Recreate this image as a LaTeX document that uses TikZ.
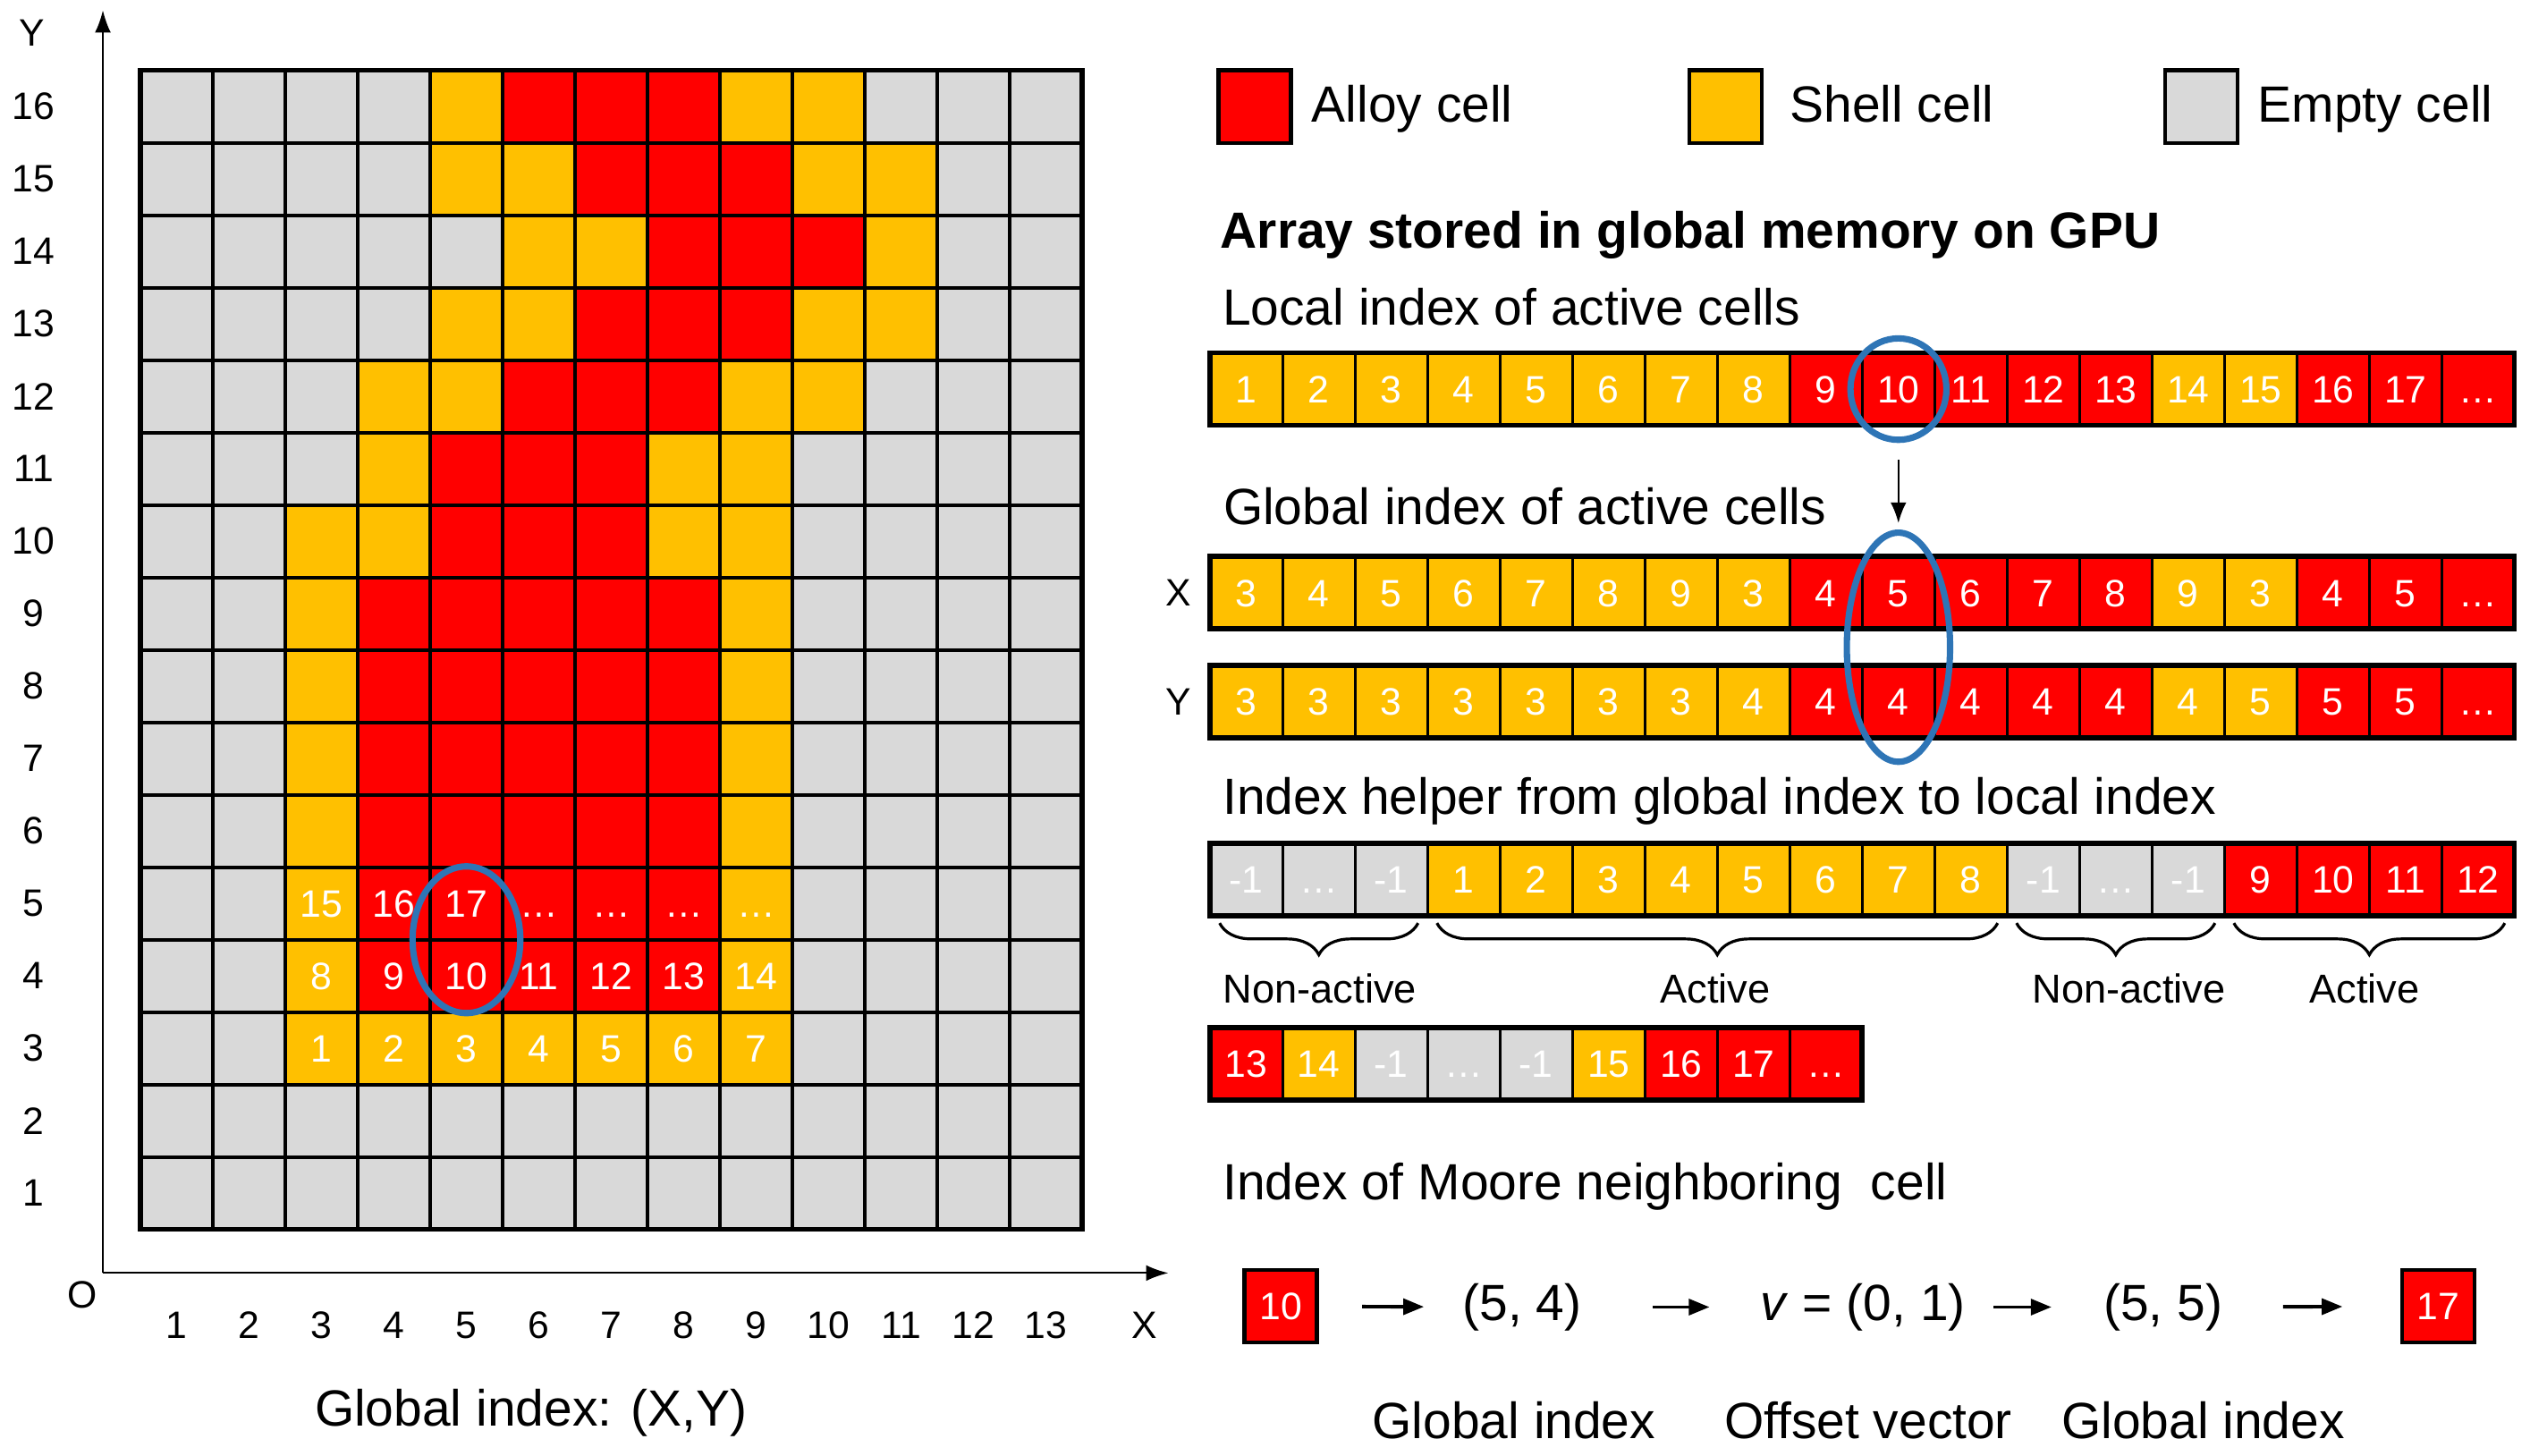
\documentclass[tikz,border=0pt]{standalone}
\usepackage{fontspec}
\setmainfont{Liberation Sans}
\usetikzlibrary{positioning}
\usetikzlibrary{shapes.geometric}
\usetikzlibrary{arrows.meta}
\usetikzlibrary{decorations.pathreplacing}
\usetikzlibrary{calc}
\definecolor{ca}{HTML}{FF0000}
\definecolor{cs}{HTML}{FFC000}
\definecolor{ce}{HTML}{D9D9D9}
\definecolor{ringblue}{HTML}{2E75B6}
\tikzset{cell/.style={draw=black, line width=0.8pt, minimum size=0.8cm, inner sep=0pt, outer sep=0pt, text=white, text height=8.6pt, text depth=0pt, font=\fontsize{12}{14}\selectfont},
 big/.style={font=\fontsize{16}{19}\selectfont, inner sep=0pt},
 small/.style={font=\fontsize{12}{14}\selectfont, inner sep=0pt},
 note/.style={font=\fontsize{12.7}{15}\selectfont, inner sep=0pt},
 ring/.style={ellipse, draw=ringblue, line width=2pt, inner sep=0pt},
 pointer/.style={-{Latex[length=6.5pt,width=5pt]}, line width=0.6pt},
 moorearrow/.style={-{Triangle[length=6.5pt,width=5pt]}, line width=1.1pt},
 bracket/.style={decorate, decoration={brace, amplitude=0.35cm, mirror}, line width=0.9pt},
 }

\begin{document}
\begin{tikzpicture}[x=0.8cm, y=0.8cm]
        \useasboundingbox (-1.938,-3.118) rectangle (32.984,16.971);
        \foreach \y/\row in {16/{e,e,e,e,s,a,a,a,s,s,e,e,e}, 15/{e,e,e,e,s,s,a,a,a,s,s,e,e},
            14/{e,e,e,e,e,s,s,a,a,a,s,e,e}, 13/{e,e,e,e,s,s,a,a,a,s,s,e,e},
            12/{e,e,e,s,s,a,a,a,s,s,e,e,e}, 11/{e,e,e,s,a,a,a,s,s,e,e,e,e},
            10/{e,e,s,s,a,a,a,s,s,e,e,e,e}, 9/{e,e,s,a,a,a,a,a,s,e,e,e,e},
            8/{e,e,s,a,a,a,a,a,s,e,e,e,e}, 7/{e,e,s,a,a,a,a,a,s,e,e,e,e},
            6/{e,e,s,a,a,a,a,a,s,e,e,e,e}, 5/{e,e,s,a,a,a,a,a,s,e,e,e,e},
            4/{e,e,s,a,a,a,a,a,s,e,e,e,e}, 3/{e,e,s,s,s,s,s,s,s,e,e,e,e},
            2/{e,e,e,e,e,e,e,e,e,e,e,e,e}, 1/{e,e,e,e,e,e,e,e,e,e,e,e,e}} {
            \foreach \col [count=\x] in \row {
                \node[cell, fill=c\col, line width=1.05pt] (g-\x-\y) at (\x-0.5, \y-0.5) {};
            }
        }
        \draw[line width=1.5pt] (g-1-1.south west) rectangle (g-13-16.north east);
        \foreach \x/\y/\txt in {3/3/1, 4/3/2, 5/3/3, 6/3/4, 7/3/5, 8/3/6, 9/3/7,
            3/4/8, 4/4/9, 5/4/10, 6/4/11, 7/4/12, 8/4/13, 9/4/14,
            3/5/15, 4/5/16, 5/5/17, 6/5/\ldots, 7/5/\ldots, 8/5/\ldots, 9/5/\ldots} {
            \node[cell, draw=none] (t-\x-\y) at (g-\x-\y) {\txt};
        }
        \node[ring, minimum width=1.19cm, minimum height=1.62cm] (ring-g) at (4.5, 4) {};

        \coordinate (o) at (-0.518, -0.6);
        \coordinate (ytip) at (-0.518, 16.83);
        \coordinate (xtip) at (14.19, -0.6);
        \draw[-{Latex[length=7pt,width=5pt]}, line width=0.6pt] (o) -- (ytip);
        \draw[-{Latex[length=7pt,width=5pt]}, line width=0.6pt] (o) -- (xtip);
        \foreach \y in {1,...,16} {
            \node[small] (ry-\y) at (-1.474, \y-0.5) {\y};
        }
        \foreach \x in {1,...,13} {
            \node[small, anchor=base] (cx-\x) at (\x-0.5, -1.506) {\x};
        }
        \node[small, anchor=base] (ylab) at (-1.495, 16.33) {Y};
        \node[small, anchor=base] (xlab) at (13.86, -1.506) {X};
        \node[small, anchor=base] (olab) at (-0.806, -1.085) {O};
        \node[big, anchor=base] (gcap) at (5.39, -2.71) {Global index: (X,Y)};

        \node[cell, fill=ca, line width=1.2pt] (leg-a) at (15.38, 15.5) {};
        \node[big, anchor=base west] (leg-a-txt) at (16.16, 15.29) {Alloy cell};
        \node[cell, fill=cs, line width=1.2pt] (leg-s) at (21.88, 15.5) {};
        \node[big, anchor=base west] (leg-s-txt) at (22.76, 15.29) {Shell cell};
        \node[cell, fill=ce, line width=1.2pt] (leg-e) at (28.45, 15.5) {};
        \node[big, anchor=base west] (leg-e-txt) at (29.22, 15.29) {Empty cell};

        \node[big, font=\fontsize{16}{19}\selectfont\bfseries, anchor=base west] (title) at (14.9, 13.54) {Array stored in global memory on GPU};
        \node[big, anchor=base west] (loc-txt) at (14.93, 12.48) {Local index of active cells};
        \node[big, anchor=base west] (glb-txt) at (14.94, 9.735) {Global index of active cells};
        \node[big, anchor=base west] (hlp-txt) at (14.93, 5.735) {Index helper from global index to local index};
        \node[big, anchor=base west] (moore-txt) at (14.93, 0.41) {Index of Moore neighboring~ cell};

        \foreach \arr/\ya/\list in {
            loc/11.6/{s/1,s/2,s/3,s/4,s/5,s/6,s/7,s/8,a/9,a/10,a/11,a/12,a/13,s/14,s/15,a/16,a/17,a/\ldots},
            gx/8.79/{s/3,s/4,s/5,s/6,s/7,s/8,s/9,s/3,a/4,a/5,a/6,a/7,a/8,s/9,s/3,a/4,a/5,a/\ldots},
            gy/7.285/{s/3,s/3,s/3,s/3,s/3,s/3,s/3,s/4,a/4,a/4,a/4,a/4,a/4,s/4,s/5,a/5,a/5,a/\ldots},
            hlp/4.83/{e/-1,e/\ldots,e/-1,s/1,s/2,s/3,s/4,s/5,s/6,s/7,s/8,e/-1,e/\ldots,e/-1,a/9,a/10,a/11,a/12},
            hlpb/2.29/{a/13,s/14,e/-1,e/\ldots,e/-1,s/15,a/16,a/17,a/\ldots}} {
            \foreach \col/\txt [count=\i] in \list {
                \node[cell, fill=c\col] (\arr-\i) at (14.266+\i, \ya) {\txt};
            }
        }
        \draw[line width=1.6pt] (loc-1.south west) rectangle (loc-18.north east);
        \draw[line width=1.6pt] (gx-1.south west) rectangle (gx-18.north east);
        \draw[line width=1.6pt] (gy-1.south west) rectangle (gy-18.north east);
        \draw[line width=1.6pt] (hlp-1.south west) rectangle (hlp-18.north east);
        \draw[line width=1.6pt] (hlpb-1.south west) rectangle (hlpb-9.north east);
        \node[small] (gx-lbl) at (14.33, 8.79) {X};
        \node[small] (gy-lbl) at (14.33, 7.285) {Y};

        \node[ring, minimum width=1.06cm, minimum height=1.12cm] (ring-loc) at (loc-10) {};
        \node[ring, minimum width=1.14cm, minimum height=2.53cm] (ring-glb) at ($(gx-10)!0.5!(gy-10)$) {};
        \draw[pointer, shorten <=0.18cm, shorten >=0.07cm] (ring-loc) -- (ring-glb);

        \draw[bracket] ([shift={(0.13,-0.1)}]hlp-1.south west) -- ([shift={(-0.13,-0.1)}]hlp-3.south east);
        \draw[bracket] ([shift={(0.13,-0.1)}]hlp-4.south west) -- ([shift={(-0.13,-0.1)}]hlp-11.south east);
        \draw[bracket] ([shift={(0.13,-0.1)}]hlp-12.south west) -- ([shift={(-0.13,-0.1)}]hlp-14.south east);
        \draw[bracket] ([shift={(0.13,-0.1)}]hlp-15.south west) -- ([shift={(-0.13,-0.1)}]hlp-18.south east);
        \foreach \n/\x/\txt in {1/16.28/Non-active, 2/21.74/Active, 3/27.45/Non-active, 4/30.7/Active} {
            \node[note, anchor=base] (part-\n) at (\x, 3.13) {\txt};
        }

        \node[cell, fill=ca, line width=1.2pt] (m-10) at (15.74, -1.06) {10};
        \node[big] (m-54) at (19.07, -1.07) {(5, 4)};
        \node[big] (m-v) at (23.78, -1.07) {\textit{v} = (0, 1)};
        \node[big] (m-55) at (27.92, -1.07) {(5, 5)};
        \node[cell, fill=ca, line width=1.2pt] (m-17) at (31.72, -1.06) {17};
        \draw[moorearrow, shorten <=0.5cm, shorten >=0.42cm] (m-10) -- (m-54);
        \draw[moorearrow, shorten <=0.78cm, shorten >=0.56cm] (m-54) -- (m-v);
        \draw[moorearrow, shorten <=0.3cm, shorten >=0.57cm] (m-v) -- (m-55);
        \draw[moorearrow, shorten <=0.66cm, shorten >=0.66cm] (m-55) -- (m-17);
        \node[big, anchor=base] (cap-1) at (18.96, -2.88) {Global index};
        \node[big, anchor=base] (cap-2) at (23.85, -2.88) {Offset vector};
        \node[big, anchor=base] (cap-3) at (28.47, -2.88) {Global index};
    \end{tikzpicture}
\end{document}
